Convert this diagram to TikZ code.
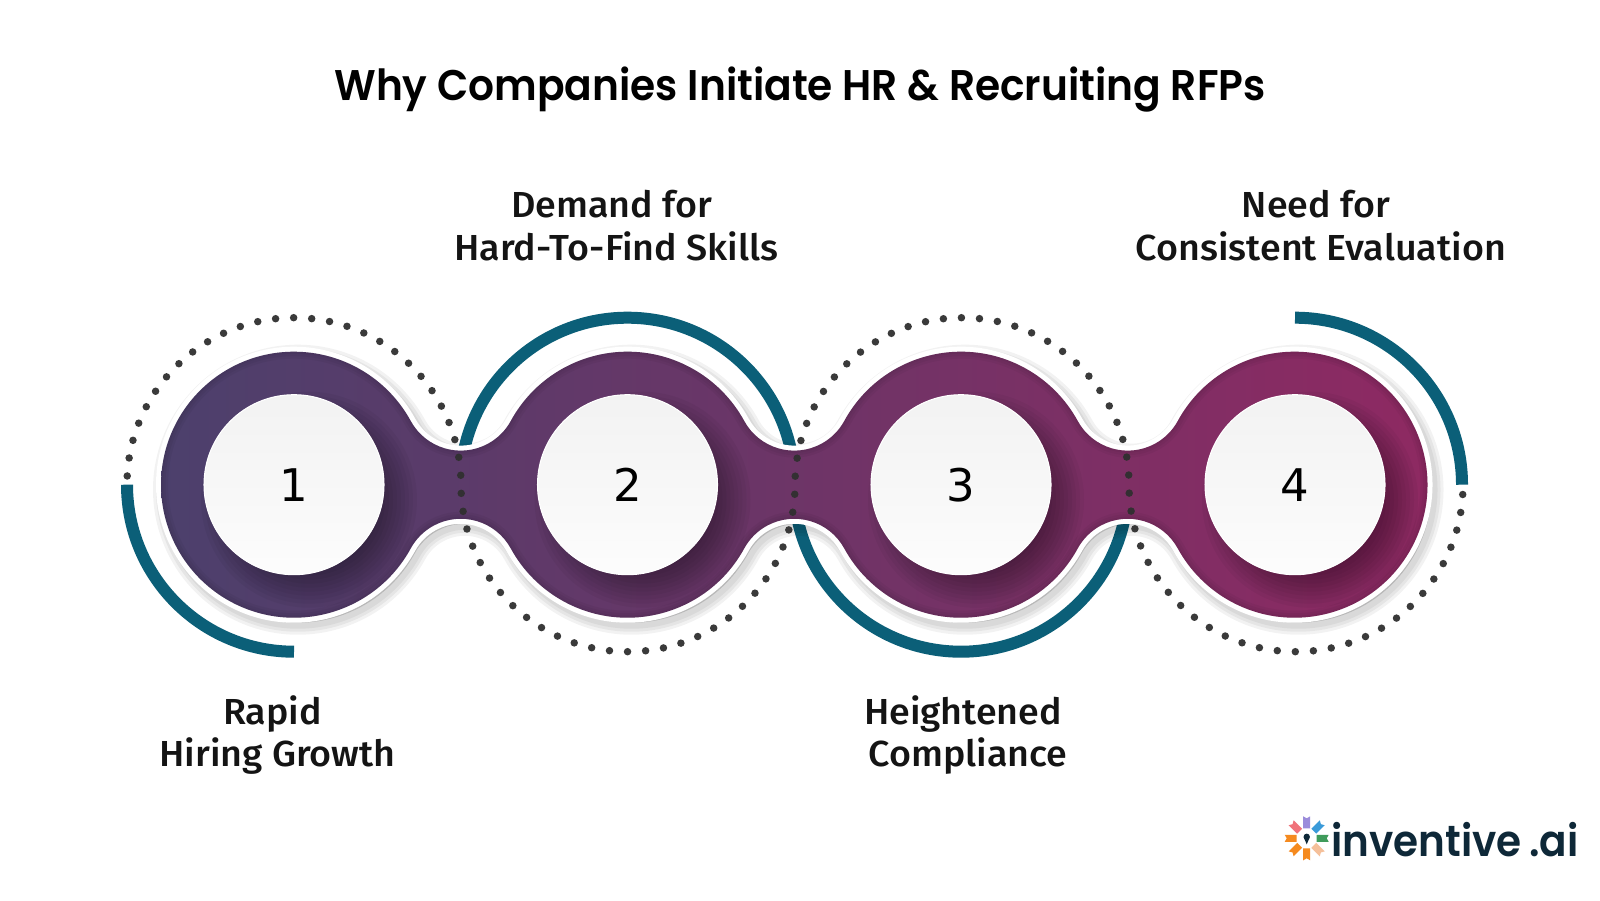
\documentclass[tikz,border=0pt]{standalone}
\usepackage{fontspec}
\setmainfont{Open Sans}
\newfontfamily\titlefont[FakeStretch=.95]{Poppins SemiBold}
\newfontfamily\labelfont[FakeStretch=1.04]{Fira Sans Medium}
\newfontfamily\digitfont{DejaVu Sans}
\newfontfamily\logofont[FakeStretch=.93]{Poppins SemiBold}
\usepackage{tikz}
\usetikzlibrary{positioning}

\definecolor{blobleft}{RGB}{76,64,108}
\definecolor{blobright}{RGB}{143,41,98}
\definecolor{tealarc}{RGB}{11,95,120}
\definecolor{dotgray}{RGB}{48,48,48}
\definecolor{logoink}{RGB}{14,40,56}

% outline of the four joined discs
\newcommand{\blobpath}{
  (1.61,4.153) arc[start angle=180,end angle=28.64,radius=1.33]
  arc[start angle=208.64,end angle=331.36,radius=.57]
  arc[start angle=151.36,end angle=28.64,radius=1.33]
  arc[start angle=208.64,end angle=331.36,radius=.57]
  arc[start angle=151.36,end angle=28.64,radius=1.33]
  arc[start angle=208.64,end angle=331.36,radius=.57]
  arc[start angle=151.36,end angle=-151.36,radius=1.33]
  arc[start angle=28.64,end angle=151.36,radius=.57]
  arc[start angle=-28.64,end angle=-151.36,radius=1.33]
  arc[start angle=28.64,end angle=151.36,radius=.57]
  arc[start angle=-28.64,end angle=-151.36,radius=1.33]
  arc[start angle=28.64,end angle=151.36,radius=.57]
  arc[start angle=-28.64,end angle=-180,radius=1.33] -- cycle
}

\begin{document}
\begin{tikzpicture}
  [disc/.style={circle,minimum size=1.8cm,inner sep=0pt,top color=black!5,bottom color=black!1,
     draw=white,line width=.3pt,font=\digitfont\fontsize{12.8}{14}\selectfont},
   rim/.style={tealarc,line width=.12cm},
   caption/.style={align=center,font=\labelfont\fontsize{10.3}{12.2}\selectfont,text=black!92}]
  \fill[white] (0,0) rectangle (16,9);
  \useasboundingbox (0,0) rectangle (16,9);

  \node (title) at (8,8.1) {\titlefont\fontsize{12.2}{15}\selectfont Why Companies Initiate HR \& Recruiting RFPs};

  % teal rims go under the blob
  \draw[rim] (1.27,4.153) arc[start angle=180,end angle=270,radius=1.67];
  \draw[rim] (4.605,4.153) arc[start angle=180,end angle=0,radius=1.67];
  \draw[rim] (7.94,4.153) arc[start angle=180,end angle=360,radius=1.67];
  \draw[rim] (12.95,5.823) arc[start angle=90,end angle=0,radius=1.67];

  \foreach \wd in {.24,.18,.12}
    \filldraw[black,opacity=.05,line width=\wd cm,line join=round,shift={(.04,-.05)}] \blobpath;
  \filldraw[white,line width=.1cm,line join=round] \blobpath;
  \shade[left color=blobleft,right color=blobright] \blobpath;

  \begin{scope}
    \clip \blobpath;
    \foreach \wd in {.14,.09,.04}
      \draw[black,opacity=.04,line width=\wd cm] \blobpath;
    \foreach \cx in {2.94,6.275,9.61,12.95}
      \foreach \rr in {.72,.76,...,1.1}
        \fill[black,opacity=.04] (\cx+.15,4.003) circle (\rr);
  \end{scope}

  \node[disc] (c1) at (2.94,4.153) {1};
  \node[disc] (c2) at (6.275,4.153) {2};
  \node[disc] (c3) at (9.61,4.153) {3};
  \node[disc] (c4) at (12.95,4.153) {4};

  % dotted line weaves from disc to disc
  \draw[dotgray,line width=.075cm,line cap=round,dash pattern=on 0pt off .1809cm,opacity=.95]
    (2.94,4.153) ++(177:1.67) arc[start angle=177,end angle=0,radius=1.67]
    arc[start angle=180,end angle=360,radius=1.67]
    arc[start angle=180,end angle=0,radius=1.67]
    arc[start angle=180,end angle=360,radius=1.67];

  \node[caption] (t1) at (2.775,1.65) {Rapid\hspace*{.1cm}\\Hiring Growth};
  \node[caption] (t2) at (6.165,6.74) {Demand for\hspace*{.1cm}\\Hard-To-Find Skills};
  \node[caption] (t3) at (9.68,1.65) {Heightened\hspace*{.1cm}\\Compliance};
  \node[caption] (t4) at (13.21,6.74) {Need for\hspace*{.1cm}\\Consistent Evaluation};

  % logo mark
  \begin{scope}[shift={(13.067,.617)}]
    \foreach \ang/\col in {90/{rgb,255:red,155;green,140;blue,219},45/{rgb,255:red,58;green,154;blue,217},
      0/{rgb,255:red,63;green,155;blue,91},-45/{rgb,255:red,245;green,192;blue,154},-90/{rgb,255:red,245;green,138;blue,31},
      -135/{rgb,255:red,245;green,138;blue,31},180/{rgb,255:red,245;green,138;blue,31},135/{rgb,255:red,240;green,114;blue,122}}
      \fill[color=\col,rotate=\ang] (.1,-.035) -- (.22,-.035) -- (.2,0) -- (.22,.035) -- (.1,.035) -- cycle;
    \fill[logoink] (0,.015) circle (.032);
    \fill[logoink] (-.03,.01) -- (.03,.01) -- (0,-.06) -- cycle;
  \end{scope}
  \node[text=logoink,inner sep=0pt] (logo) at (14.55,.6) {\logofont\fontsize{12.4}{14}\selectfont inventive\,.ai};
\end{tikzpicture}
\end{document}
